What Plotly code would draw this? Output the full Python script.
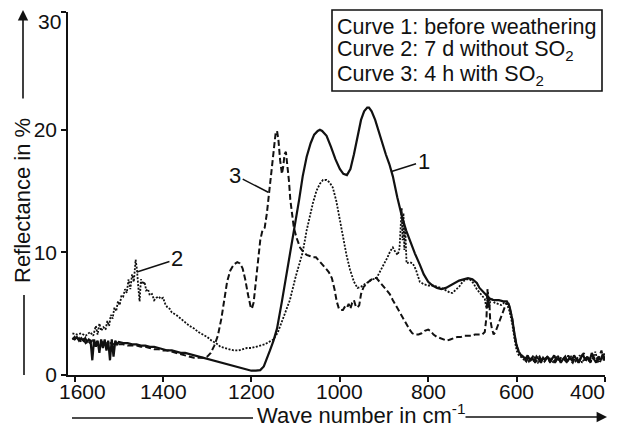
import plotly.graph_objects as go

# ---------------- data ----------------
# Curve 1: before weathering (solid)
wn1 = [1605,1600,1595,1590,1585,1580,1576,1572,1568,1564,1560,1556,1552,1548,1544,1540,1536,1532,1528,1524,
       1520,1516,1512,1508,1504,1500,1490,1480,1470,1460,1450,1440,1430,1420,1410,1400,1390,1380,1370,1360,
       1350,1340,1330,1320,1310,1300,1290,1280,1270,1260,1250,1240,1230,1220,1210,1200,1190,1180,1172,1165,
       1158,1150,1142,1131,1120,1110,1100,1092,1084,1075,1066,1058,1050,1045,1040,1030,1020,1010,1000,992,
       984,976,968,960,952,945,938,934,928,920,912,904,896,888,880,870,860,850,840,830,
       819,810,800,790,780,770,760,750,740,730,720,710,700,690,684,676,668,660,650,640,
       630,622,616,610,605,600,595,590]
r1 = [3.0,2.9,3.1,2.8,3.0,2.8,3.0,2.7,2.9,2.8,1.2,2.9,2.3,2.8,1.8,2.9,2.2,2.9,2.0,2.8,
      1.2,2.9,1.5,2.8,2.5,2.7,2.6,2.6,2.5,2.5,2.4,2.4,2.3,2.3,2.2,2.1,2.0,2.0,1.9,1.8,
      1.8,1.7,1.6,1.5,1.4,1.3,1.2,1.1,1.0,0.9,0.8,0.7,0.6,0.5,0.4,0.35,0.35,0.4,0.7,1.3,
      2.0,2.8,3.8,6.0,8.3,10.5,12.5,14.3,16.2,17.8,18.9,19.6,19.9,20.0,19.9,19.5,18.6,17.6,16.8,16.4,
      16.3,16.8,18.0,19.5,20.8,21.5,21.8,21.8,21.5,20.8,19.8,18.9,18.0,17.2,16.2,14.5,13.0,11.8,10.8,9.9,
      9.0,8.2,7.6,7.3,7.1,7.0,7.1,7.3,7.5,7.7,7.8,7.9,7.8,7.5,7.1,6.8,6.5,6.2,6.1,6.1,
      6.0,6.0,5.6,4.6,3.4,2.4,1.9,1.6]
tail_wn1 = [585,580,575,570,565,560,555,550,545,540,535,530,525,520,515,510,505,500,495,490,
            485,480,475,470,465,460,455,450,445,440,435,430,425,420,415,410,405,400,396]
tail_r1 = [1.5,1.3,1.6,1.2,1.4,1.1,1.5,1.3,1.0,1.4,1.2,1.5,1.1,1.3,1.6,1.2,1.4,1.0,1.3,1.5,
           1.1,1.4,1.2,1.6,1.3,1.0,1.4,1.7,1.2,1.5,1.1,1.8,1.3,1.0,1.5,1.2,1.7,1.3,1.6]

# Curve 2: 7 d without SO2 (dotted)
wn2 = [1605,1595,1585,1575,1565,1558,1552,1548,1544,1540,1535,1530,1526,1522,1518,1514,1510,1506,1502,1498,
       1494,1490,1486,1482,1478,1474,1470,1466,1462,1459,1456,1453,1450,1446,1442,1438,1434,1430,1425,1420,
       1415,1410,1405,1400,1395,1390,1385,1380,1370,1360,1350,1340,1330,1320,1310,1300,1290,1280,1270,1260,
       1250,1240,1230,1220,1210,1200,1190,1180,1170,1160,1150,1140,1129,1120,1113,1100,1092,1084,1075,1068,
       1061,1053,1045,1038,1030,1023,1016,1008,1000,992,985,977,968,960,952,944,935,926,917,908,
       900,892,886,880,874,869,865,862,860,858,856,854,852,849,842,835,828,819,810,800,
       790,780,770,760,750,745,738,730,722,714,706,698,690,684,678,672,668,665,662,658,
       650,642,635,628,622,616,610,605,600,595,590]
r2 = [3.4,3.3,3.4,3.2,3.5,3.2,4.0,3.3,4.2,3.6,3.9,3.7,4.4,4.0,4.9,4.6,5.5,5.2,6.0,5.7,
      6.5,6.4,7.0,6.7,7.8,7.0,8.2,7.6,9.4,8.6,7.2,6.0,7.8,7.4,7.6,6.9,7.0,6.5,6.6,6.1,
      6.3,6.4,6.2,6.3,5.8,5.5,5.4,5.1,4.9,4.6,4.3,4.0,3.8,3.5,3.3,3.1,2.8,2.6,2.3,2.2,
      2.1,2.0,2.0,2.1,2.2,2.2,2.3,2.4,2.5,2.7,2.9,3.5,4.5,5.3,6.1,8.0,9.1,10.0,11.8,13.0,
      14.0,15.0,15.6,15.9,15.9,15.7,15.3,14.2,12.7,11.0,9.8,8.6,7.6,7.1,7.2,7.4,7.6,7.8,7.9,8.5,
      9.0,9.6,10.1,10.4,10.0,9.8,10.3,12.0,13.6,11.0,13.2,10.2,12.0,9.1,9.2,9.1,8.6,7.6,7.4,7.3,
      7.3,7.2,7.1,6.9,6.7,6.7,6.9,7.2,7.6,7.8,7.8,7.5,7.0,6.7,6.5,6.2,5.4,6.8,5.6,6.3,
      5.9,5.8,5.7,5.9,5.8,5.2,4.2,3.0,2.0,1.6,1.5]
tail_wn2 = [587,582,577,572,567,562,557,552,547,542,537,532,527,522,517,512,507,502,497,492,
            487,482,477,472,467,462,457,452,447,442,437,432,427,422,417,412,407,402,397]
tail_r2 = [1.4,1.2,1.5,1.1,1.3,1.6,1.2,1.0,1.4,1.3,1.1,1.5,1.2,1.4,1.0,1.3,1.6,1.1,1.2,1.4,
           1.0,1.3,1.5,1.2,1.1,1.4,1.6,1.0,1.3,1.2,1.5,1.1,1.4,1.9,1.2,1.0,1.4,1.8,1.2]

# Curve 3: 4 h with SO2 (dashed)
wn3 = [1605,1600,1595,1590,1585,1580,1575,1570,1565,1560,1555,1550,1545,1540,1530,1520,1510,1500,1490,1480,
       1470,1460,1450,1440,1430,1420,1410,1400,1390,1380,1370,1360,1350,1340,1330,1320,1310,1300,1292,1284,
       1276,1268,1262,1255,1248,1240,1232,1226,1220,1214,1208,1202,1199,1195,1190,1185,1180,1175,1170,1165,
       1160,1155,1150,1145,1142,1139,1135,1131,1128,1125,1122,1119,1115,1112,1108,1104,1098,1090,1082,1075,
       1068,1061,1054,1046,1039,1032,1025,1018,1012,1007,1002,998,993,988,984,980,976,972,968,964,
       960,956,952,946,940,932,924,917,910,903,895,887,880,872,864,856,848,842,836,830,
       822,815,808,800,795,788,780,772,765,758,750,742,734,726,718,710,702,694,686,678,
       672,668,666,664,662,660,656,652,648,642,636,630,624,618,614,610,606,602,598,594,590]
r3 = [2.9,3.1,2.8,3.0,2.7,2.9,2.6,2.8,2.6,2.8,2.5,2.7,2.6,2.7,2.6,2.6,2.5,2.5,2.5,2.4,
      2.4,2.4,2.3,2.3,2.2,2.1,2.1,2.0,2.0,1.9,1.8,1.7,1.6,1.5,1.4,1.4,1.4,1.5,1.8,2.4,
      3.2,4.6,6.1,7.6,8.5,9.0,9.2,9.1,8.7,7.8,6.6,5.6,5.4,5.9,7.6,9.6,11.0,11.8,12.0,13.2,
      14.9,16.8,18.6,19.8,19.9,19.2,17.5,16.4,17.0,18.0,18.2,17.2,15.8,14.3,13.0,12.0,11.2,10.4,10.0,9.8,
      9.7,9.6,9.6,9.3,9.0,8.7,8.4,7.9,7.0,6.0,5.4,5.3,5.3,5.6,5.5,5.8,5.4,5.9,6.1,5.6,
      5.5,5.7,6.6,7.2,7.4,7.7,7.9,7.9,7.6,7.3,7.0,6.6,6.1,5.6,5.0,4.5,4.0,3.7,3.4,3.3,
      3.3,3.4,3.6,3.7,3.6,3.3,3.1,3.0,2.9,2.8,2.9,3.0,3.1,3.1,3.2,3.2,3.2,3.3,3.3,3.3,
      3.5,4.8,7.0,5.5,6.3,4.6,3.8,3.3,3.5,4.1,4.7,5.3,5.8,5.8,5.3,4.6,3.6,2.7,2.2,1.8,1.6]
tail_wn3 = [588,583,578,573,568,563,558,553,548,543,538,533,528,523,518,513,508,503,498,493,
            488,483,478,473,468,463,458,453,448,443,438,433,428,423,418,413,408,403,398]
tail_r3 = [1.6,1.3,1.1,1.5,1.2,1.4,1.0,1.3,1.5,1.1,1.2,1.4,1.6,1.1,1.3,1.0,1.4,1.2,1.5,1.3,
           1.1,1.6,1.2,1.0,1.4,1.3,1.1,1.5,1.8,1.2,1.4,1.0,1.6,1.3,1.1,1.5,2.0,1.2,1.4]

x_tickvals = [1600, 1400, 1200, 1000, 800, 600, 400]
x_ticktext = ["1600", "1400", "1200", "1000", "800", "600", "400"]
y_tickvals = [0, 10, 20, 29.6]
y_ticktext = ["0", "10", "20", "30"]
legend_lines = ["Curve 1: before weathering",
                "Curve 2: 7 d without SO<sub>2</sub>",
                "Curve 3: 4 h with SO<sub>2</sub>"]

for a, b in [(wn1, r1), (tail_wn1, tail_r1), (wn2, r2), (tail_wn2, tail_r2), (wn3, r3), (tail_wn3, tail_r3)]:
    assert len(a) == len(b), (len(a), len(b))

# ---------------- figure ----------------
INK = "#111111"
FONT = "Arial, 'Liberation Sans', sans-serif"
BODY = 8                     # default page margin of the html body
W, H = 618 - BODY, 427 - BODY
PLOT_L, PLOT_R, PLOT_T, PLOT_B = 68, 605, 12, 375   # plot area in page pixels
L, T = PLOT_L - BODY, PLOT_T - BODY
R, B = W - (PLOT_R - BODY), H - (PLOT_B - BODY)
PW, PH = PLOT_R - PLOT_L, PLOT_B - PLOT_T


def px(xp):
    return (xp - PLOT_L) / PW


def py(yp):
    return (PLOT_B - yp) / PH


fig = go.Figure()
fig.add_trace(go.Scatter(x=wn1 + tail_wn1, y=r1 + tail_r1, mode="lines",
                         line=dict(color=INK, width=2.2), hoverinfo="skip", showlegend=False))
fig.add_trace(go.Scatter(x=wn2 + tail_wn2, y=r2 + tail_r2, mode="lines",
                         line=dict(color=INK, width=1.8, dash="2px,1.5px"), hoverinfo="skip", showlegend=False))
fig.add_trace(go.Scatter(x=wn3 + tail_wn3, y=r3 + tail_r3, mode="lines",
                         line=dict(color=INK, width=2.0, dash="6px,3px"), hoverinfo="skip", showlegend=False))

axis_common = dict(showline=True, linecolor=INK, linewidth=1.6, ticks="outside", ticklen=5,
                   tickwidth=1.5, tickcolor=INK, showgrid=False, zeroline=False, automargin=False,
                   tickfont=dict(family=FONT, size=21, color=INK))
fig.update_xaxes(range=[1615, 400], tickvals=x_tickvals, ticktext=[""] * len(x_tickvals), **axis_common)
fig.update_yaxes(range=[0, 29.6], tickvals=y_tickvals, ticktext=y_ticktext[:-1] + [""], **axis_common)

ann = []
# x tick labels (the end labels are nudged inwards as in the original)
x_shift = {1600: 8, 400: -18}
for v, t in zip(x_tickvals, x_ticktext):
    ann.append(dict(text=t, x=v, y=py(392), xref="x", yref="paper", showarrow=False,
                    xshift=x_shift.get(v, 0), font=dict(family=FONT, size=21, color=INK),
                    xanchor="center", yanchor="middle"))
# top y tick label (sits just below the axis end)
ann.append(dict(text=y_ticktext[-1], x=px(63), y=py(21), xref="paper", yref="paper", showarrow=False,
                font=dict(family=FONT, size=21, color=INK), xanchor="right", yanchor="middle"))
# axis titles
ann.append(dict(text="Reflectance in %", x=px(22), y=py(201), xref="paper", yref="paper", showarrow=False,
                textangle=-90, font=dict(family=FONT, size=22, color=INK), xanchor="center", yanchor="middle"))
ann.append(dict(text="Wave number in cm<sup>-1</sup>", x=px(361), y=py(414), xref="paper", yref="paper",
                showarrow=False, font=dict(family=FONT, size=22, color=INK), xanchor="center", yanchor="middle"))
# arrows
ann.append(dict(text="", x=px(23), y=py(10), xref="paper", yref="paper", showarrow=True,
                ax=0, ay=90, arrowhead=2, arrowsize=1.3, arrowwidth=1.6, arrowcolor=INK, standoff=0))
ann.append(dict(text="", x=px(607), y=py(417), xref="paper", yref="paper", showarrow=True,
                ax=-143, ay=0, arrowhead=2, arrowsize=1.3, arrowwidth=1.6, arrowcolor=INK, standoff=0))
# legend text
for line, yc in zip(legend_lines, [27, 51, 75]):
    ann.append(dict(text=line, x=px(335), y=py(yc), xref="paper", yref="paper", showarrow=False,
                    font=dict(family=FONT, size=21.5, color=INK), xanchor="left", yanchor="middle"))
# curve labels with leader lines
ann.append(dict(text="1", x=883, y=16.6, xref="x", yref="y", showarrow=True, ax=32, ay=-10,
                arrowhead=0, arrowwidth=1.5, arrowcolor=INK, font=dict(family=FONT, size=22, color=INK)))
ann.append(dict(text="2", x=1459, y=8.4, xref="x", yref="y", showarrow=True, ax=40, ay=-13,
                arrowhead=0, arrowwidth=1.5, arrowcolor=INK, font=dict(family=FONT, size=22, color=INK)))
ann.append(dict(text="3", x=1162, y=14.9, xref="x", yref="y", showarrow=True, ax=-33, ay=-17,
                arrowhead=0, arrowwidth=1.5, arrowcolor=INK, font=dict(family=FONT, size=22, color=INK)))

shapes = [
    dict(type="rect", xref="paper", yref="paper", x0=px(332), x1=px(602), y0=py(91), y1=py(10),
         line=dict(color=INK, width=1.6), fillcolor="rgba(0,0,0,0)"),
    dict(type="line", xref="paper", yref="paper", x0=px(24), x1=px(24), y0=py(295), y1=py(375),
         line=dict(color=INK, width=1.6)),
    dict(type="line", xref="paper", yref="paper", x0=px(72), x1=px(253), y0=py(418), y1=py(418),
         line=dict(color=INK, width=1.6)),
]

fig.update_layout(width=W, height=H, autosize=False,
                  margin=dict(l=L, r=R, t=T, b=B, pad=0),
                  paper_bgcolor="white", plot_bgcolor="white",
                  font=dict(family=FONT, color=INK),
                  annotations=ann, shapes=shapes, showlegend=False)

fig.write_html("out.html")
